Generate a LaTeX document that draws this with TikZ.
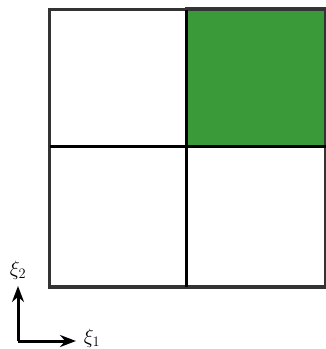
\documentclass[tikz,border=0pt]{standalone}
\usetikzlibrary{arrows.meta}
\definecolor{gfill}{HTML}{3A9A3A}
\definecolor{gedge}{HTML}{0F4F0F}
\definecolor{outer}{HTML}{333333}
\begin{document}
\begin{tikzpicture}[x=1pt,y=-1pt,
  outerline/.style={draw=outer,line width=3.5pt},
  innerline/.style={draw=black,line width=3pt},
  axisarrow/.style={line width=3pt,-{Stealth[length=16pt,width=12pt]}},
  lab/.style={font=\huge,inner sep=0pt}]
\useasboundingbox (0,0) rectangle (326,349);
\coordinate (TL) at (49.5,9.5);
\coordinate (BR) at (325.5,287);
\coordinate (MT) at (186,9.5);
\coordinate (MB) at (186,287);
\coordinate (ML) at (49.5,146);
\coordinate (MR) at (325.5,146);
\fill[gfill,draw=gedge,line width=2.5pt] (186,8.5) rectangle (325.5,146.5);
\draw[outerline] (TL) rectangle (BR);
\draw[innerline] (MT) -- (MB);
\draw[innerline] (ML) -- (MR);
\coordinate (O) at (18,341);
\coordinate (Y) at (18,286);
\coordinate (X) at (76,341);
\draw[axisarrow] (O) -- (Y);
\draw[axisarrow] (O) -- (X);
\node[lab] (x2) at (18,270) {$\xi_2$};
\node[lab] (x1) at (92,338) {$\xi_1$};
\end{tikzpicture}
\end{document}
